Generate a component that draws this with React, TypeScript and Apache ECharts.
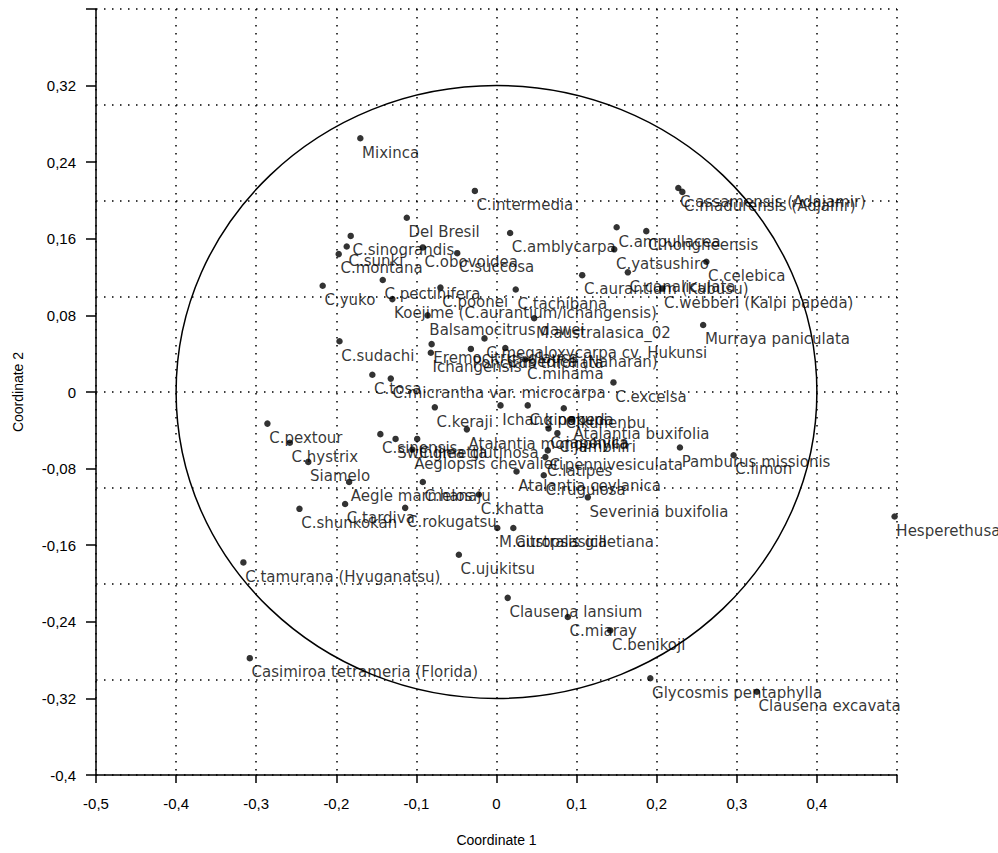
import React, { useEffect, useRef } from "react";
import * as echarts from "echarts";

// Taxa labels (categories)
const names: string[] = [
  "Mixinca", "C.intermedia", "Del Bresil", "C.amblycarpa", "C.assamensis (Adajamir)",
  "C.madurensis (Adjalfir)", "C.ampullacea", "C.hongheensis", "C.yatsushiro", "C.celebica",
  "C.canaliculata", "C.aurantium (Kabusu)", "C.webberi (Kalpi papeda)", "Murraya paniculata", "C.sinograndis",
  "C.sunki", "C.obovoidea", "C.montana", "C.succosa", "C.yuko",
  "C.pectinifera", "Koejime (C.aurantium/ichangensis)", "C.poonei", "C.tachibana", "Balsamocitrus dawei",
  "M.australasica_02", "C.megaloxycarpa cv. Hukunsi", "C.sudachi", "Eremocitrus glauca", "C.tosa",
  "C.micrantha var. microcarpa", "C.excelsa", "C.keraji", "Ichang papeda", "C.kinokuni",
  "C.kunenbu", "C.pextour", "C.hystrix", "Siamelo", "Aegle marmelos",
  "C.hanaju", "C.tardiva", "C.shunkokan", "C.rokugatsu", "M.australasica",
  "Citropsis gilletiana", "C.tamurana (Hyuganatsu)", "Casimiroa tetrameria (Florida)", "C.ujukitsu", "Clausena lansium",
  "C.miaray", "C.benikoji", "Glycosmis pentaphylla", "Clausena excavata", "Hesperethusa crenulata",
  "Severinia buxifolia", "Atalantia ceylanica", "C.rugulosa", "C.khatta", "Atalantia monophylla",
  "C.latipes", "C.pennivesiculata", "Pamburus missionis", "C.limon", "Aeglopsis chevalieri",
  "C.sinensis", "Atalantia buxifolia", "Swinglea glutinosa", "C.limetta", "Ichangensis",
  "Poncirus trifoliata", "C.medica (Naharan)", "C.mihama", "C.japonica", "C.jambhiri",
];

// Coordinate 1 (x) values
const coord1: number[] = [
  -0.170, -0.027, -0.112, 0.017, 0.227,
  0.232, 0.150, 0.187, 0.147, 0.262,
  0.164, 0.107, 0.207, 0.258, -0.182,
  -0.187, -0.092, -0.197, -0.049, -0.217,
  -0.142, -0.130, -0.070, 0.024, -0.086,
  0.047, -0.015, -0.196, -0.081, -0.155,
  -0.132, 0.146, -0.077, 0.005, 0.039,
  0.084, -0.286, -0.258, -0.235, -0.184,
  -0.092, -0.189, -0.246, -0.114, 0.001,
  0.021, -0.316, -0.308, -0.047, 0.014,
  0.089, 0.142, 0.192, 0.325, 0.497,
  0.114, 0.025, 0.059, -0.022, -0.037,
  0.061, 0.064, 0.229, 0.296, -0.105,
  -0.145, 0.094, -0.126, -0.099, -0.082,
  -0.032, 0.011, 0.036, 0.065, 0.076,
];

// Coordinate 2 (y) values
const coord2: number[] = [
  0.265, 0.210, 0.182, 0.166, 0.213,
  0.209, 0.172, 0.168, 0.149, 0.136,
  0.125, 0.122, 0.108, 0.070, 0.163,
  0.152, 0.151, 0.144, 0.145, 0.111,
  0.117, 0.097, 0.109, 0.107, 0.080,
  0.077, 0.056, 0.053, 0.050, 0.018,
  0.014, 0.010, -0.016, -0.014, -0.014,
  -0.017, -0.033, -0.053, -0.073, -0.094,
  -0.094, -0.117, -0.122, -0.121, -0.142,
  -0.142, -0.178, -0.278, -0.170, -0.215,
  -0.235, -0.249, -0.299, -0.313, -0.130,
  -0.110, -0.083, -0.087, -0.107, -0.039,
  -0.068, -0.061, -0.058, -0.066, -0.060,
  -0.044, -0.029, -0.049, -0.049, 0.041,
  0.045, 0.046, 0.034, -0.038, -0.043,
];

// Axes
const xMin = -0.5, xMax = 0.5, xStep = 0.1;
const yMin = -0.4, yMax = 0.4, yTickStep = 0.08, yGridStep = 0.1;
// Confidence ellipse: centre and radii
const ellipse = [0, 0, 0.4, 0.32];

const fmt = (v: number) => {
  const r = Math.round(v * 100) / 100;
  return r === 0 ? "0" : String(r).replace(".", ",");
};

export default function App() {
  const ref = useRef<HTMLDivElement>(null);
  useEffect(() => {
    document.body.style.margin = "0";
    const chart = echarts.init(ref.current!, null, { renderer: "svg" });
    const axisFont = { fontFamily: "Liberation Sans", fontSize: 15, color: "#000" };
    const dotted = { color: "#000", width: 1.5, type: [1.5, 6.5] as any };
    chart.setOption({
      animation: false,
      backgroundColor: "#fff",
      grid: { left: 96, right: 101, top: 9, bottom: 78, containLabel: false },
      xAxis: {
        type: "value",
        min: xMin,
        max: xMax,
        interval: xStep,
        name: "Coordinate 1",
        nameLocation: "middle",
        nameGap: 58,
        nameTextStyle: { fontFamily: "Liberation Sans", fontSize: 14, color: "#000" },
        axisLine: { onZero: false, lineStyle: { color: "#000", width: 1.5 } },
        axisTick: { show: true, length: 8, lineStyle: { color: "#000", width: 1.5 } },
        axisLabel: { ...axisFont, margin: 21, formatter: (v: number) => (Math.abs(v - 0.5) < 1e-9 ? "" : fmt(v)) },
        splitLine: { show: true, lineStyle: dotted },
      },
      yAxis: [
        {
          type: "value",
          min: yMin,
          max: yMax,
          interval: yTickStep,
          position: "left",
          name: "Coordinate 2",
          nameLocation: "middle",
          nameGap: 71,
          nameRotate: 90,
          nameTextStyle: { fontFamily: "Liberation Sans", fontSize: 14, color: "#000" },
          axisLine: { show: true, onZero: false, lineStyle: { color: "#000", width: 1.5 } },
          axisTick: { show: true, length: 10, lineStyle: { color: "#000", width: 1.5 } },
          axisLabel: { ...axisFont, margin: 20, formatter: (v: number) => (Math.abs(v - 0.4) < 1e-9 ? "" : fmt(v)) },
          splitLine: { show: false },
        },
        {
          type: "value",
          min: yMin,
          max: yMax,
          interval: yGridStep,
          position: "left",
          axisLine: { show: false },
          axisTick: { show: false },
          axisLabel: { show: false },
          splitLine: { show: true, lineStyle: dotted },
        },
      ],
      tooltip: { show: false },
      series: [
        {
          type: "custom",
          xAxisIndex: 0,
          yAxisIndex: 0,
          silent: true,
          clip: false,
          data: [ellipse],
          renderItem: (_params: any, api: any) => {
            const c = api.coord([api.value(0), api.value(1)]);
            const s = api.size([api.value(2), api.value(3)]);
            return {
              type: "ellipse",
              shape: { cx: c[0], cy: c[1], rx: s[0], ry: s[1] },
              style: { fill: "none", stroke: "#000", lineWidth: 1.5 },
            };
          },
        },
        {
          type: "scatter",
          xAxisIndex: 0,
          yAxisIndex: 0,
          silent: true,
          symbol: "circle",
          symbolSize: 6.5,
          itemStyle: { color: "#000" },
          data: names.map((n, i) => ({ name: n, value: [coord1[i], coord2[i]] })),
          label: {
            show: true,
            formatter: "{b}",
            position: [5, 17.5],
            align: "left",
            verticalAlign: "middle",
            fontFamily: "DejaVu Sans",
            fontSize: 15,
            color: "#000",
          },
          labelLayout: { hideOverlap: false },
          emphasis: { disabled: true },
        },
      ],
    });
    return () => chart.dispose();
  }, []);
  return (
    <div style={{ position: "fixed", left: 0, top: 0, width: 998, height: 853 }}>
      <div ref={ref} style={{ width: 998, height: 853 }} />
    </div>
  );
}
